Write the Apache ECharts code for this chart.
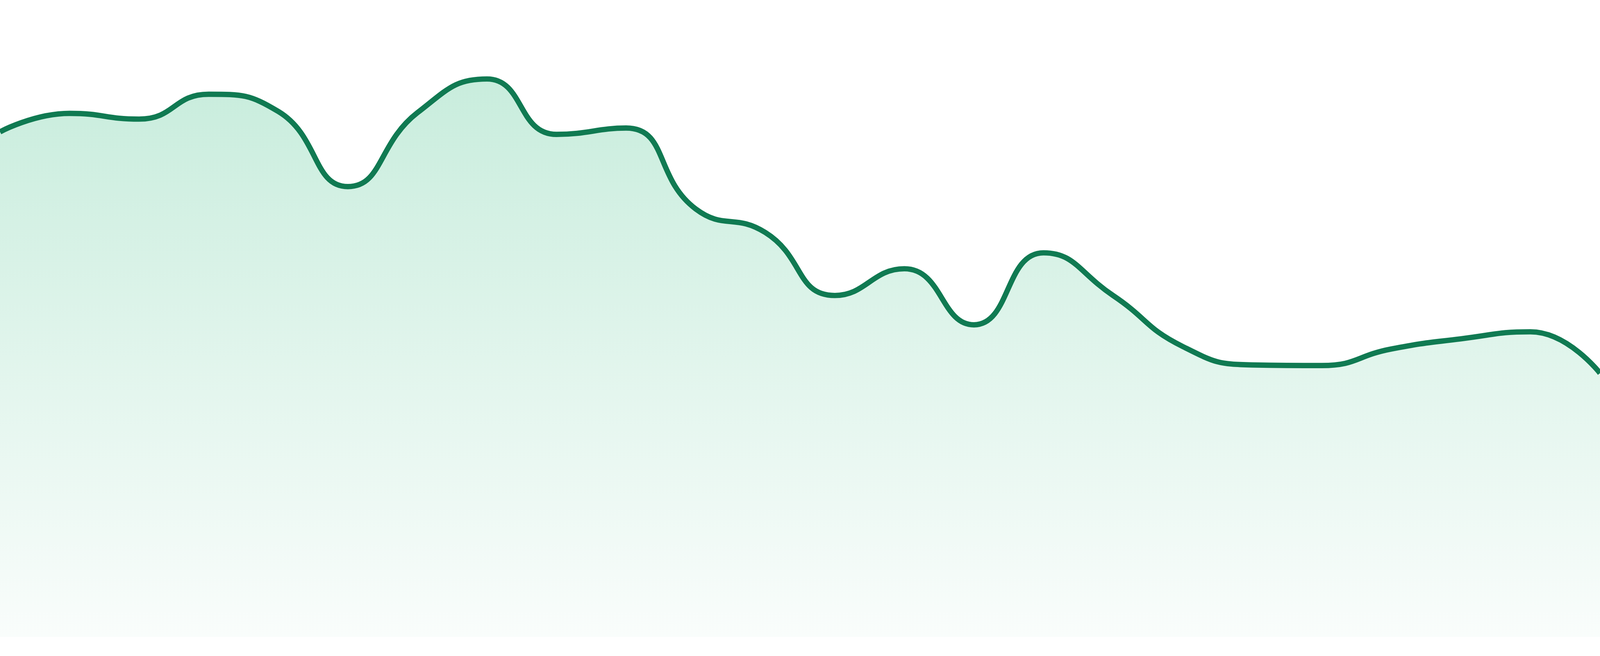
<!DOCTYPE html>
<html>
<head>
<meta charset="utf-8">
<script src="https://cdn.jsdelivr.net/npm/echarts@6/dist/echarts.min.js"></script>
<style>
html,body{margin:0;padding:0;background:#ffffff;overflow:hidden;}
#chart{width:100vw;height:100vh;}
</style>
</head>
<body>
<div id="chart"></div>
<script>
const categories = ['1','2','3','4','5','6','7','8','9','10','11','12','13','14','15','16','17','18','19','20','21','22','23','24'];
const values = [79.3, 82.2, 81.3, 85.2, 82.5, 70.7, 82.3, 87.6, 78.9, 79.9, 67.2, 63.5,
                53.6, 57.8, 49.0, 60.3, 53.6, 45.6, 42.7, 42.6, 45.2, 46.8, 47.9, 41.4];

const el = document.getElementById('chart');
const W = el.clientWidth || window.innerWidth;
const H = el.clientHeight || window.innerHeight;
const sx = W / 4800;
const sy = H / 1680;

const chart = echarts.init(el);
chart.setOption({
  animation: false,
  backgroundColor: '#ffffff',
  grid: { left: 0, right: 0, top: 0, bottom: 49 * sy },
  xAxis: {
    type: 'category',
    data: categories,
    boundaryGap: false,
    show: false
  },
  yAxis: {
    type: 'value',
    min: 0,
    max: 100,
    show: false
  },
  series: [{
    type: 'line',
    data: values,
    smooth: true,
    showSymbol: false,
    lineStyle: { color: '#107a52', width: 16 * sx },
    itemStyle: { color: '#107a52' },
    areaStyle: {
      color: {
        type: 'linear', x: 0, y: 0, x2: 0, y2: 1,
        colorStops: [
          { offset: 0, color: '#b1e5ce' },
          { offset: 1, color: '#f7fcfa' }
        ]
      }
    }
  }]
});
</script>
</body>
</html>
